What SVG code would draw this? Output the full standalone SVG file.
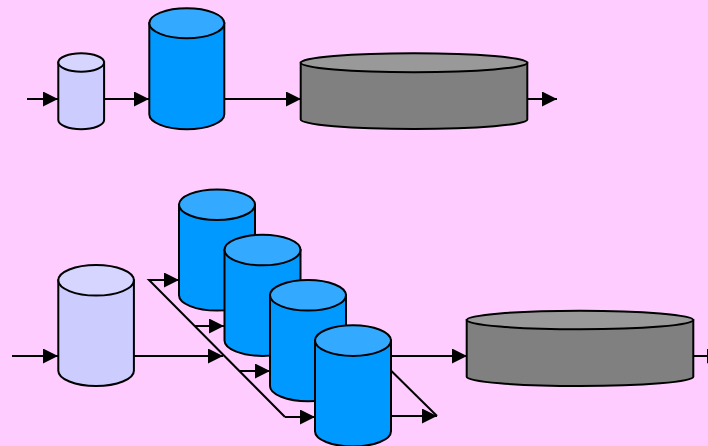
<svg xmlns="http://www.w3.org/2000/svg" width="708" height="446" viewBox="0 0 708 446">
  <defs>
    <marker id="arrow" viewBox="0 0 15 15" refX="15" refY="7.5" markerWidth="15" markerHeight="15" markerUnits="userSpaceOnUse" orient="auto">
      <path d="M0,0 L15,7.5 L0,15 z" fill="#000"/>
    </marker>
    <style>
      .edge { fill: none; stroke: #000; stroke-width: 2; }
      .arr { marker-end: url(#arrow); }
      .cyl { stroke: #000; stroke-width: 2; }
      .light .body { fill: #CCCCFF; }
      .light .top { fill: #D5D5FF; }
      .blue .body { fill: #0099FF; }
      .blue .top { fill: #33AAFF; }
      .gray .body { fill: #808080; }
      .gray .top { fill: #999999; }
    </style>
  </defs>

  <rect width="708" height="446" fill="#FFCCFF"/>

  <!-- connectors -->
  <g id="connectors">
    <!-- top row -->
    <path class="edge arr" d="M27,99 L58,99"/>
    <path class="edge arr" d="M104,99 L149,99"/>
    <path class="edge arr" d="M224,99 L301,99"/>
    <path class="edge arr" d="M527,99 L557,99"/>
    <!-- bottom row -->
    <path class="edge arr" d="M12,356 L58,356"/>
    <path class="edge arr" d="M134,356 L223,356"/>
    <path class="edge" d="M179,280 L149,280 L285,417"/>
    <path class="edge arr" d="M149,280 L179,280"/>
    <path class="edge arr" d="M195,326 L224,326"/>
    <path class="edge arr" d="M240,371 L270,371"/>
    <path class="edge arr" d="M285,417 L315,417"/>
    <path class="edge" d="M360,340 L437,416"/>
    <path class="edge arr" d="M391,416 L437,416"/>
    <path class="edge arr" d="M391,356 L467,356"/>
    <path class="edge arr" d="M693,356 L722,356"/>
  </g>

  <!-- top row nodes -->
  <g id="source-small" class="cyl light">
    <path class="body" d="M58.3,62.5 L58.3,120 A22.9,9.2 0 0 0 104.1,120 L104.1,62.5 z"/>
    <ellipse class="top" cx="81.2" cy="62.5" rx="22.9" ry="9.2"/>
  </g>
  <g id="store-tall" class="cyl blue">
    <path class="body" d="M149.3,23.3 L149.3,114.3 A37.5,15 0 0 0 224.3,114.3 L224.3,23.3 z"/>
    <ellipse class="top" cx="186.8" cy="23.3" rx="37.5" ry="15"/>
  </g>
  <g id="sink-top" class="cyl gray">
    <path class="body" d="M300.7,62.8 L300.7,119.5 A113.3,9.5 0 0 0 527.3,119.5 L527.3,62.8 z"/>
    <ellipse class="top" cx="414" cy="62.8" rx="113.3" ry="9.5"/>
  </g>

  <!-- bottom row nodes -->
  <g id="source-large" class="cyl light">
    <path class="body" d="M58.3,280.3 L58.3,370.7 A37.8,15.3 0 0 0 133.9,370.7 L133.9,280.3 z"/>
    <ellipse class="top" cx="96.1" cy="280.3" rx="37.8" ry="15.3"/>
  </g>
  <g id="part-1" class="cyl blue">
    <path class="body" d="M179,204.7 L179,295.3 A38,15.3 0 0 0 255,295.3 L255,204.7 z"/>
    <ellipse class="top" cx="217" cy="204.7" rx="38" ry="15.3"/>
  </g>
  <g id="part-2" class="cyl blue">
    <path class="body" d="M224.5,250 L224.5,340.6 A38,15.3 0 0 0 300.5,340.6 L300.5,250 z"/>
    <ellipse class="top" cx="262.5" cy="250" rx="38" ry="15.3"/>
  </g>
  <g id="part-3" class="cyl blue">
    <path class="body" d="M270,295.3 L270,385.9 A38,15.3 0 0 0 346,385.9 L346,295.3 z"/>
    <ellipse class="top" cx="308" cy="295.3" rx="38" ry="15.3"/>
  </g>
  <g id="part-4" class="cyl blue">
    <path class="body" d="M315,340.6 L315,431.2 A38,15.3 0 0 0 391,431.2 L391,340.6 z"/>
    <ellipse class="top" cx="353" cy="340.6" rx="38" ry="15.3"/>
  </g>
  <g id="sink-bottom" class="cyl gray">
    <path class="body" d="M466.7,320 L466.7,376.7 A113.3,9.3 0 0 0 693.3,376.7 L693.3,320 z"/>
    <ellipse class="top" cx="580" cy="320" rx="113.3" ry="9.3"/>
  </g>
</svg>
